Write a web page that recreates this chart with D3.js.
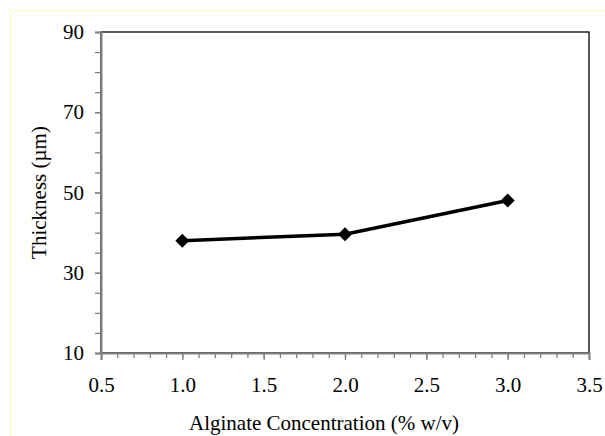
<!DOCTYPE html>
<html>
<head>
<meta charset="utf-8">
<script src="https://cdn.jsdelivr.net/npm/d3@7"></script>
<style>
  body { margin: 0; background: #fff; }
  svg text { font-family: "Liberation Serif", "Times New Roman", serif; fill: #000; }
</style>
</head>
<body>
<div id="grafica"></div>
<script>
// datos
var concentracion = [1.0, 2.0, 3.0];
var espesor = [38.0, 39.6, 48.0];
var ticksX = [0.5, 1.0, 1.5, 2.0, 2.5, 3.0, 3.5];
var ticksY = [10, 30, 50, 70, 90];

var width = 605, height = 436;
var margin = { top: 32, right: 16, bottom: 83, left: 101 };
var w = width - margin.left - margin.right,
    h = height - margin.top - margin.bottom;

var svg = d3.select("#grafica").append("svg")
  .attr("width", width)
  .attr("height", height);

// borde amarillo tenue
svg.append("rect")
  .attr("x", 10.5).attr("y", 10.5)
  .attr("width", 620).attr("height", 450)
  .attr("fill", "none")
  .attr("stroke", "#ffffb3")
  .attr("stroke-width", 1);

var g = svg.append("g")
  .attr("transform", "translate(" + margin.left + "," + margin.top + ")");

var x = d3.scaleLinear().domain([0.5, 3.5]).range([0, w]);
var y = d3.scaleLinear().domain([10, 90]).range([h, 0]);

// marco del area de grafico
g.append("rect")
  .attr("x", 0).attr("y", 0)
  .attr("width", w).attr("height", h)
  .attr("fill", "none")
  .attr("stroke", "#000")
  .attr("stroke-width", 1.3);

// marcas menores (grupos aparte para que no se pisen con las mayores)
var menoresX = g.append("g")
  .attr("transform", "translate(0," + h + ")")
  .call(d3.axisBottom(x).tickValues(d3.range(0.6, 3.45, 0.1)).tickSize(5).tickFormat(""));
menoresX.select(".domain").remove();
menoresX.selectAll(".tick line").attr("stroke", "#808080").attr("stroke-width", 1.3);

var menoresY = g.append("g")
  .call(d3.axisLeft(y).tickValues(d3.range(15, 90, 5)).tickSize(6).tickFormat(""));
menoresY.select(".domain").remove();
menoresY.selectAll(".tick line").attr("stroke", "#808080").attr("stroke-width", 1.3);

// eje X
var ejeX = g.append("g")
  .attr("transform", "translate(0," + h + ")")
  .call(d3.axisBottom(x).tickValues(ticksX).tickSize(7).tickPadding(17).tickFormat(d3.format(".1f")));
ejeX.select(".domain").attr("stroke", "#808080").attr("stroke-width", 2);
ejeX.selectAll(".tick line").attr("stroke", "#808080").attr("stroke-width", 1.3);
ejeX.selectAll("text").style("font-size", "21px").attr("fill", "#000");

// eje Y
var ejeY = g.append("g")
  .call(d3.axisLeft(y).tickValues(ticksY).tickSize(6).tickPadding(11));
ejeY.select(".domain").attr("stroke", "#808080").attr("stroke-width", 2);
ejeY.selectAll(".tick line").attr("stroke", "#808080").attr("stroke-width", 1.3);
ejeY.selectAll("text").style("font-size", "21px").attr("fill", "#000");

// linea de datos
var datos = concentracion.map(function (c, i) { return { c: c, t: espesor[i] }; });
var linea = d3.line()
  .x(function (d) { return x(d.c); })
  .y(function (d) { return y(d.t); });

g.append("path")
  .datum(datos)
  .attr("fill", "none")
  .attr("stroke", "#000")
  .attr("stroke-width", 3.5)
  .attr("d", linea);

g.selectAll(".punto")
  .data(datos)
  .enter().append("path")
  .attr("class", "punto")
  .attr("transform", function (d) { return "translate(" + x(d.c) + "," + y(d.t) + ")"; })
  .attr("d", d3.symbol().type(d3.symbolDiamond2).size(125))
  .attr("fill", "#000");

// titulos de ejes
svg.append("text")
  .attr("x", 324)
  .attr("y", 430)
  .attr("text-anchor", "middle")
  .style("font-size", "21px")
  .text("Alginate Concentration (% w/v)");

svg.append("text")
  .attr("transform", "translate(46," + (margin.top + h / 2) + ") rotate(-90)")
  .attr("text-anchor", "middle")
  .style("font-size", "21px")
  .text("Thickness (µm)");
</script>
</body>
</html>
